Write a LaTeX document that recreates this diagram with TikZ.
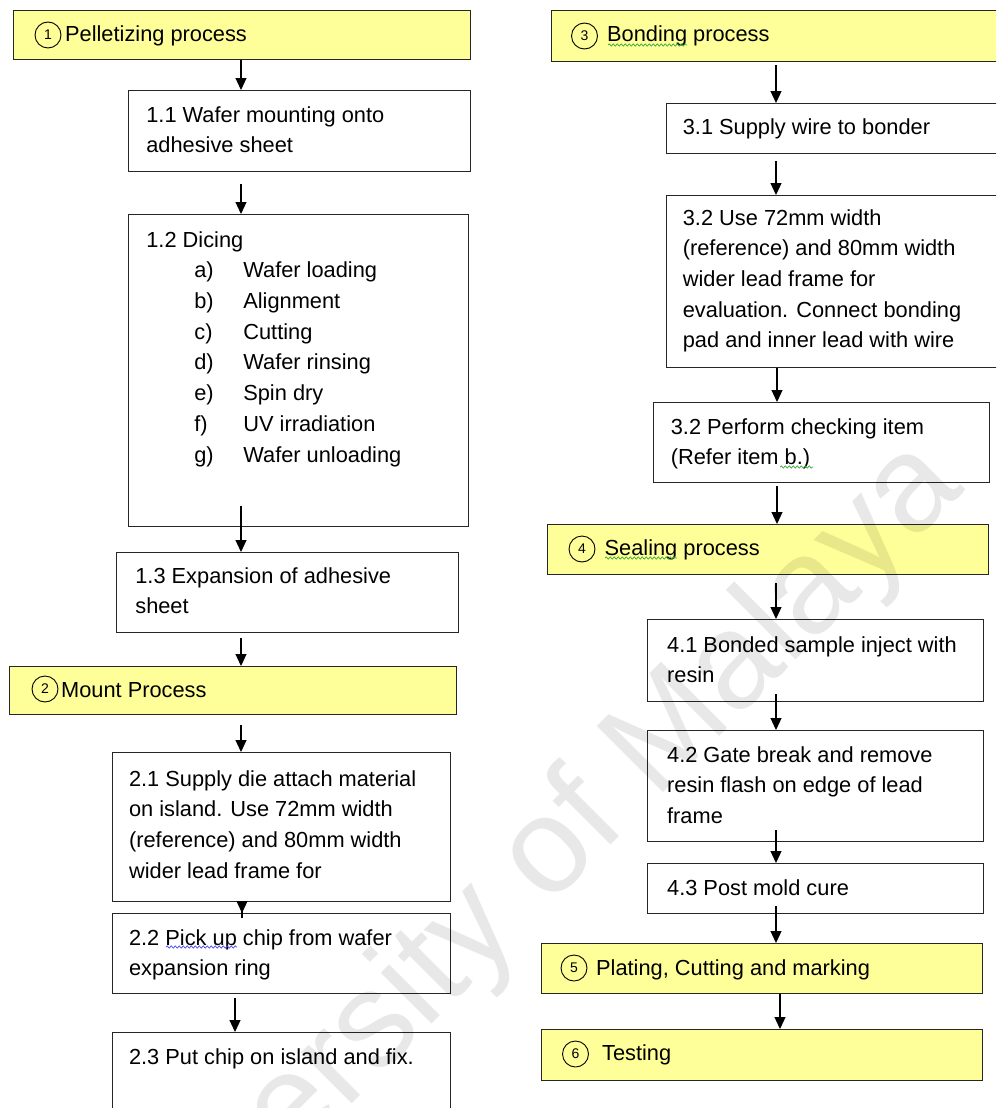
\documentclass[tikz,border=0pt]{standalone}
\usepackage{fontspec}
\setmainfont{Liberation Sans}
\usetikzlibrary{arrows.meta,decorations.pathmorphing}
\definecolor{hdrfill}{HTML}{FFFF99}
\definecolor{sqgreen}{HTML}{3DAA3D}
\definecolor{sqblue}{HTML}{4A4AF0}
% name, style, x, y, w, h, left pad, first baseline, text
\newcommand\mybox[9]{\node[#2, anchor=north west, inner sep=0pt, minimum width=#5pt, minimum height=#6pt] (#1) at (#3,#4) {\hspace*{#7pt}\begin{minipage}[t][#6pt][t]{\dimexpr#5pt-#7pt\relax}\raggedright\rule{0pt}{#8pt}#9\end{minipage}};}
\newcommand\itm[2]{\hspace*{48pt}\makebox[49pt][l]{#1}#2}
\begin{document}
\begin{tikzpicture}[x=1pt,y=-1pt,
  every node/.style={font=\fontsize{21.8}{30.7}\selectfont},
  boxst/.style={draw=black!85, line width=1.3pt, fill=white},
  headst/.style={draw=black!85, line width=1.3pt, fill=hdrfill},
  arr/.style={-{Triangle[width=11pt,length=12pt]}, line width=1.2pt, draw=black},
  numc/.style={circle, draw=black, line width=0.9pt, minimum size=26pt, inner sep=0pt, font=\fontsize{14}{14}\selectfont},
  squig/.style={decorate, decoration={snake, amplitude=1.1pt, segment length=4pt}, line width=0.7pt},
  wmark/.style={rotate=45, anchor=base east, inner sep=0pt, text=black, text opacity=0.09, font=\fontsize{136}{136}\selectfont}]
\clip (0,0) rectangle (996,1108);
\fill[white] (0,0) rectangle (996,1108);
\coordinate (xl) at (241,0);
\coordinate (xla) at (242,0);
\coordinate (xlb) at (235,0);
\coordinate (xr) at (776,0);
\coordinate (xra) at (777,0);
\coordinate (xrb) at (780,0);
% left column
\mybox{h1}{headst}{13}{10}{457}{49}{51.5}{31}{Pelletizing process}
\node[numc] (c1) at (48,35) {1};
\mybox{b11}{boxst}{128}{90}{342}{81}{17.7}{31.5}{1.1 Wafer mounting onto\\adhesive sheet}
\mybox{b12}{boxst}{128}{214}{340}{312}{17.7}{32.5}{1.2 Dicing\\
\itm{a)}{Wafer loading}\\
\itm{b)}{Alignment}\\
\itm{c)}{Cutting}\\
\itm{d)}{Wafer rinsing}\\
\itm{e)}{Spin dry}\\
\itm{f)}{UV irradiation}\\
\itm{g)}{Wafer unloading}}
\mybox{b13}{boxst}{116}{552}{342}{80}{18.7}{30.5}{1.3 Expansion of adhesive\\sheet}
\mybox{h2}{headst}{9}{666}{447}{48}{51.5}{31}{Mount Process}
\node[numc] (c2) at (45,689) {2};
\mybox{b21}{boxst}{112}{752}{338}{149}{16.4}{33.5}{2.1 Supply die attach material\\on island. Use 72mm width\\(reference) and 80mm width\\wider lead frame for}
\mybox{b22}{boxst}{112}{913}{338}{80}{16.4}{31.5}{2.2 Pick up chip from wafer\\expansion ring}
\mybox{b23}{boxst}{112}{1032}{338}{100}{16.4}{31.5}{2.3 Put chip on island and fix.}
% right column
\mybox{h3}{headst}{551}{10}{460}{51}{55.5}{31}{Bonding process}
\node[numc] (c3) at (584.5,36) {3};
\mybox{b31}{boxst}{666}{103}{345}{50}{16.2}{30.5}{3.1 Supply wire to bonder}
\mybox{b32a}{boxst}{666}{195}{345}{172}{16.2}{29.5}{3.2 Use 72mm width\\(reference) and 80mm width\\wider lead frame for\\evaluation. Connect bonding\\pad and inner lead with wire}
\mybox{b32b}{boxst}{653}{402}{336}{80}{17.2}{31.5}{3.2 Perform checking item\\(Refer item b.)}
\mybox{h4}{headst}{547}{524}{441}{50}{57}{31}{Sealing process}
\node[numc] (c4) at (582,549) {4};
\mybox{b41}{boxst}{647}{619}{336}{82}{19.5}{32.5}{4.1 Bonded sample inject with\\resin}
\mybox{b42}{boxst}{647}{730}{336}{111}{19.5}{31.5}{4.2 Gate break and remove\\resin flash on edge of lead\\frame}
\mybox{b43}{boxst}{647}{863}{336}{50}{19.5}{31.5}{4.3 Post mold cure}
\mybox{h5}{headst}{541}{943}{441}{50}{54.5}{32}{Plating, Cutting and marking}
\node[numc] (c5) at (574,968) {5};
\mybox{h6}{headst}{541}{1029}{441}{51}{60.5}{31}{Testing}
\node[numc] (c6) at (575.5,1054) {6};
% connectors
\draw[arr] (h1.south -| xl) -- (b11.north -| xl);
\draw[arr, shorten <=12pt] (b11.south -| xl) -- (b12.north -| xl);
\draw[arr, shorten <=-21pt] (b12.south -| xl) -- (b13.north -| xl);
\draw[arr, shorten <=5pt] (b13.south -| xl) -- (h2.north -| xl);
\draw[arr, shorten <=10pt] (h2.south -| xl) -- (b21.north -| xl);
\draw[arr, shorten <=-16pt] (b21.south -| xla) -- (b22.north -| xla);
\draw[arr, shorten <=4pt] (b22.south -| xlb) -- (b23.north -| xlb);
\draw[arr, shorten <=3pt] (h3.south -| xr) -- (b31.north -| xr);
\draw[arr, shorten <=7pt] (b31.south -| xr) -- (b32a.north -| xr);
\draw[arr] (b32a.south -| xra) -- (b32b.north -| xra);
\draw[arr, shorten <=3pt] (b32b.south -| xra) -- (h4.north -| xra);
\draw[arr, shorten <=8pt] (h4.south -| xr) -- (b41.north -| xr);
\draw[arr, shorten <=-8pt] (b41.south -| xr) -- (b42.north -| xr);
\draw[arr, shorten <=-12pt] (b42.south -| xr) -- (b43.north -| xr);
\draw[arr, shorten <=-8pt] (b43.south -| xr) -- (h5.north -| xr);
\draw[arr] (h5.south -| xrb) -- (h6.north -| xrb);
% spell-check marks
\draw[squig, draw=sqgreen] (608,45) -- (687,45);
\draw[squig, draw=sqgreen] (605,558) -- (677,558);
\draw[squig, draw=sqgreen] (780,467) -- (813,467);
\draw[squig, draw=sqblue] (166,947) -- (237,947);
% watermark
\node[wmark] (wm) at (966,490) {University of Malaya};
\end{tikzpicture}
\end{document}
